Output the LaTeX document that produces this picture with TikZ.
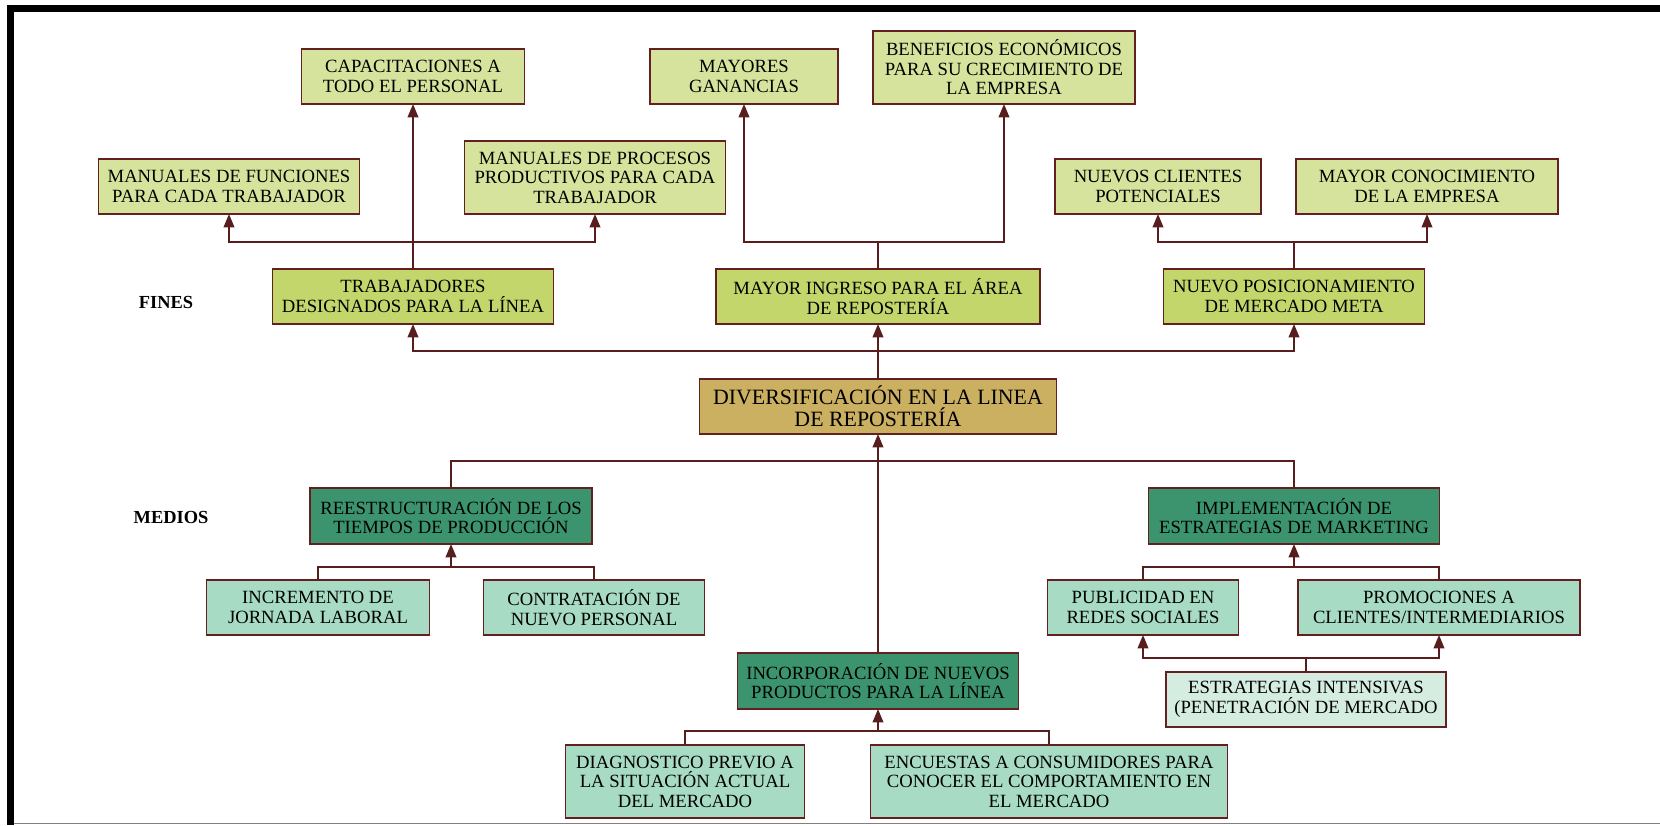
\documentclass[tikz,border=0pt]{standalone}
\usepackage{fontspec}
\setmainfont{Liberation Serif}
\usetikzlibrary{arrows.meta}
\definecolor{cLight}{RGB}{214,227,157}
\definecolor{cMid}{RGB}{194,214,108}
\definecolor{cGold}{RGB}{203,176,98}
\definecolor{cDark}{RGB}{60,148,110}
\definecolor{cTeal}{RGB}{167,219,196}
\definecolor{cPale}{RGB}{213,236,224}
\definecolor{cBrd}{RGB}{100,32,32}
\definecolor{cLn}{RGB}{88,30,30}
\begin{document}
\begin{tikzpicture}[x=0.75pt,y=-0.75pt,
  bx/.style={draw=cBrd, line width=1.4pt, align=center, inner sep=0pt, outer sep=0pt,
             font=\fontsize{14}{14.6}\selectfont},
  wh/.style 2 args={minimum width=#1*0.75pt, minimum height=#2*0.75pt},
  lightbox/.style={bx, fill=cLight},
  midbox/.style={bx, fill=cMid},
  goldbox/.style={bx, fill=cGold, font=\fontsize{16.4}{16.8}\selectfont},
  darkbox/.style={bx, fill=cDark},
  tealbox/.style={bx, fill=cTeal},
  palebox/.style={bx, fill=cPale},
  con/.style={draw=cLn, line width=1.2pt},
  arr/.style={con, -{Triangle[length=10pt,width=8pt]}},
  lbl/.style={font=\fontsize{13.8}{14.6}\selectfont\bfseries}]
\useasboundingbox (0,0) rectangle (1660,825);
% frame
\fill[black] (7,5) rectangle (1660,12);
\fill[black] (7,5) rectangle (14,825);
\draw[gray, line width=1.2pt] (14,823.5) -- (1660,823.5);

% top level
\node[lightbox, wh={223}{55}] (capac) at (413,76.5) {CAPACITACIONES A\\TODO EL PERSONAL};
\node[lightbox, wh={188}{55}] (mayores) at (744,76.5) {MAYORES\\GANANCIAS};
\node[lightbox, wh={262}{73}] (benef) at (1004,67.5) {BENEFICIOS ECONÓMICOS\\PARA SU CRECIMIENTO DE\\LA EMPRESA};
\node[lightbox, wh={261}{55}] (manfun) at (229,186.5) {MANUALES DE FUNCIONES\\PARA CADA TRABAJADOR};
\node[lightbox, wh={261}{73}] (manproc) at (595,177.5) {MANUALES DE PROCESOS\\PRODUCTIVOS PARA CADA\\TRABAJADOR};
\node[lightbox, wh={206}{55}] (nuevcli) at (1158,186.5) {NUEVOS CLIENTES\\POTENCIALES};
\node[lightbox, wh={262}{55}] (mayconoc) at (1427,186.5) {MAYOR CONOCIMIENTO\\DE LA EMPRESA};

% fines
\node[midbox, wh={281}{55}] (trab) at (413,296.5) {TRABAJADORES\\DESIGNADOS PARA LA LÍNEA};
\node[midbox, wh={324}{55}] (mayingreso) at (878,296.5) {MAYOR INGRESO PARA EL ÁREA\\DE REPOSTERÍA};
\node[midbox, wh={261}{55}] (nuevpos) at (1294,296.5) {NUEVO POSICIONAMIENTO\\DE MERCADO META};
\node[lbl] (fines) at (166,302) {FINES};

% central
\node[goldbox, wh={357}{55}] (divers) at (878,406.5) {DIVERSIFICACIÓN EN LA LINEA\\DE REPOSTERÍA};

% medios
\node[lbl] (medios) at (171,517) {MEDIOS};
\node[darkbox, wh={282}{56}] (reestr) at (451,516) {REESTRUCTURACIÓN DE LOS\\TIEMPOS DE PRODUCCIÓN};
\node[darkbox, wh={291}{56}] (implem) at (1294,516) {IMPLEMENTACIÓN DE\\ESTRATEGIAS DE MARKETING};
\node[tealbox, wh={223}{55}] (increm) at (318,607.5) {INCREMENTO DE\\JORNADA LABORAL};
\node[tealbox, wh={221}{55}] (contrat) at (594,607.5) {CONTRATACIÓN DE\\NUEVO PERSONAL};
\node[tealbox, wh={191}{55}] (public) at (1143,607.5) {PUBLICIDAD EN\\REDES SOCIALES};
\node[tealbox, wh={282}{55}] (promoc) at (1439,607.5) {PROMOCIONES A\\CLIENTES/INTERMEDIARIOS};
\node[darkbox, wh={281}{56}] (incorp) at (878,681) {INCORPORACIÓN DE NUEVOS\\PRODUCTOS PARA LA LÍNEA};
\node[palebox, wh={280}{55}] (estrat) at (1306,699.5) {ESTRATEGIAS INTENSIVAS\\(PENETRACIÓN DE MERCADO};
\node[tealbox, wh={239}{73}] (diag) at (685,781.5) {DIAGNOSTICO PREVIO A\\LA SITUACIÓN ACTUAL\\DEL MERCADO};
\node[tealbox, wh={357}{73}] (encuest) at (1049,781.5) {ENCUESTAS A CONSUMIDORES PARA\\CONOCER EL COMPORTAMIENTO EN\\EL MERCADO};

% bus coordinates
\coordinate (bA) at (413,242);
\coordinate (bB) at (878,242);
\coordinate (bC) at (1294,242);
\coordinate (bD) at (878,351);
\coordinate (bE) at (878,461);
\coordinate (bF) at (451,567);
\coordinate (bG) at (1294,567);
\coordinate (bH) at (1306,658);
\coordinate (bI) at (878,731);

% fines connectors
\draw[arr] (trab.north) -- (capac.south);
\draw[arr] (bA) -| (manfun.south);
\draw[arr] (bA) -| (manproc.south);
\draw[con] (mayingreso.north) -- (bB);
\draw[arr] (bB) -| (mayores.south);
\draw[arr] (bB) -| (benef.south);
\draw[con] (nuevpos.north) -- (bC);
\draw[arr] (bC) -| (nuevcli.south);
\draw[arr] (bC) -| (mayconoc.south);
\draw[arr] (divers.north) -- (mayingreso.south);
\draw[arr] (bD) -| (trab.south);
\draw[arr] (bD) -| (nuevpos.south);

% medios connectors
\draw[arr] (incorp.north) -- (divers.south);
\draw[con] (reestr.north) |- (bE) -| (implem.north);
\draw[con] (increm.north) |- (bF) -| (contrat.north);
\draw[arr] (bF) -- (reestr.south);
\draw[con] (public.north) |- (bG) -| (promoc.north);
\draw[arr] (bG) -- (implem.south);
\draw[con] (estrat.north) -- (bH);
\draw[arr] (bH) -| (public.south);
\draw[arr] (bH) -| (promoc.south);
\draw[con] (diag.north) |- (bI) -| (encuest.north);
\draw[arr] (bI) -- (incorp.south);
\end{tikzpicture}
\end{document}
